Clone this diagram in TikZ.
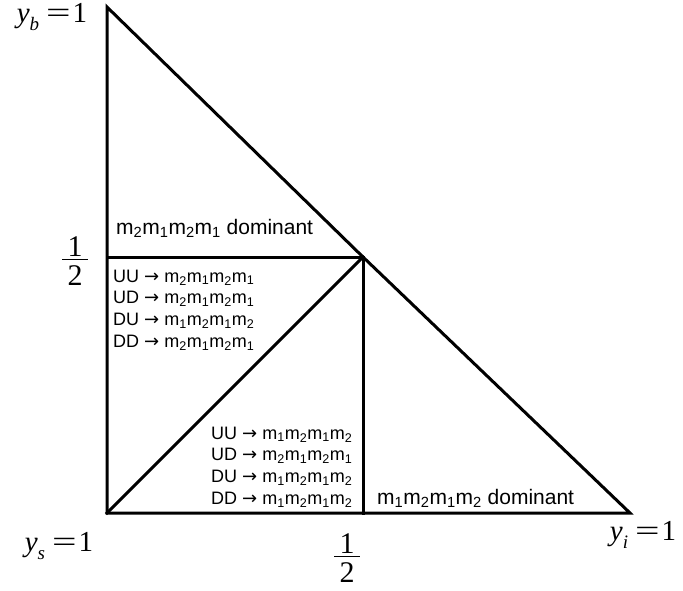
\documentclass[tikz,border=0pt]{standalone}
\usepackage{fontspec}
\usepackage{graphicx}
\setmainfont{Liberation Serif}
\newfontfamily\arialfont{Liberation Sans}
\newfontfamily\arrowfont{DejaVu Sans}
\newcommand\halffrac{\vbox{\fontsize{30}{32}\selectfont\hbox to 26pt{\hss 1\hss}\kern 2pt\hrule height 1.6pt\kern 5pt\hbox to 26pt{\hss 2\hss}}}
\newcommand\yvar[1]{\textit{y}\raisebox{-0.3em}{\fontsize{19}{19}\selectfont\textit{#1}}}
\newcommand\eqone{\hspace{7pt}\scalebox{1.5}[1]{=}\hspace{2pt}1}
\newcommand\arr{{\arrowfont →}}
\tikzset{
  edge/.style={line width=3pt, line join=miter, line cap=rect},
  mathlbl/.style={inner sep=0pt, font=\fontsize{29}{31}\selectfont},
  domlbl/.style={inner sep=0pt, anchor=west, font=\arialfont\fontsize{21}{23}\selectfont},
  rulelbl/.style={inner sep=0pt, anchor=west, align=left, font=\arialfont\fontsize{18}{21.7}\selectfont},
}
\begin{document}
\begin{tikzpicture}[x=1pt,y=-1pt]
\useasboundingbox (0,0) rectangle (683,590);
\coordinate (top) at (107,7);
\coordinate (bl) at (107,513);
\coordinate (br) at (630,513);
\coordinate (mid) at (363,257);
\coordinate (lm) at (107,257);
\coordinate (bm) at (363,513);
\draw[edge] (top) -- (bl) -- (br) -- (mid) -- cycle;
\draw[edge] (lm) -- (mid) -- (bm);
\draw[edge] (bl) -- (mid);
\node[mathlbl] (yb) at (52,17) {\yvar{b}\eqone};
\node[mathlbl] (ys) at (59,546) {\yvar{s}\eqone};
\node[mathlbl] (yi) at (643,535) {\yvar{i}\eqone};
\node[mathlbl] (hl) at (75,261) {\halffrac};
\node[mathlbl] (hb) at (347,558) {\halffrac};
\node[domlbl] (d1) at (116,228) {m\textsubscript{2}m\textsubscript{1}m\textsubscript{2}m\textsubscript{1} dominant};
\node[domlbl] (d2) at (377,498) {m\textsubscript{1}m\textsubscript{2}m\textsubscript{1}m\textsubscript{2} dominant};
\node[rulelbl] (r1) at (113,310) {UU \arr{} m\textsubscript{2}m\textsubscript{1}m\textsubscript{2}m\textsubscript{1}\\
UD \arr{} m\textsubscript{2}m\textsubscript{1}m\textsubscript{2}m\textsubscript{1}\\
DU \arr{} m\textsubscript{1}m\textsubscript{2}m\textsubscript{1}m\textsubscript{2}\\
DD \arr{} m\textsubscript{2}m\textsubscript{1}m\textsubscript{2}m\textsubscript{1}};
\node[rulelbl] (r2) at (211,467) {UU \arr{} m\textsubscript{1}m\textsubscript{2}m\textsubscript{1}m\textsubscript{2}\\
UD \arr{} m\textsubscript{2}m\textsubscript{1}m\textsubscript{2}m\textsubscript{1}\\
DU \arr{} m\textsubscript{1}m\textsubscript{2}m\textsubscript{1}m\textsubscript{2}\\
DD \arr{} m\textsubscript{1}m\textsubscript{2}m\textsubscript{1}m\textsubscript{2}};
\end{tikzpicture}
\end{document}
